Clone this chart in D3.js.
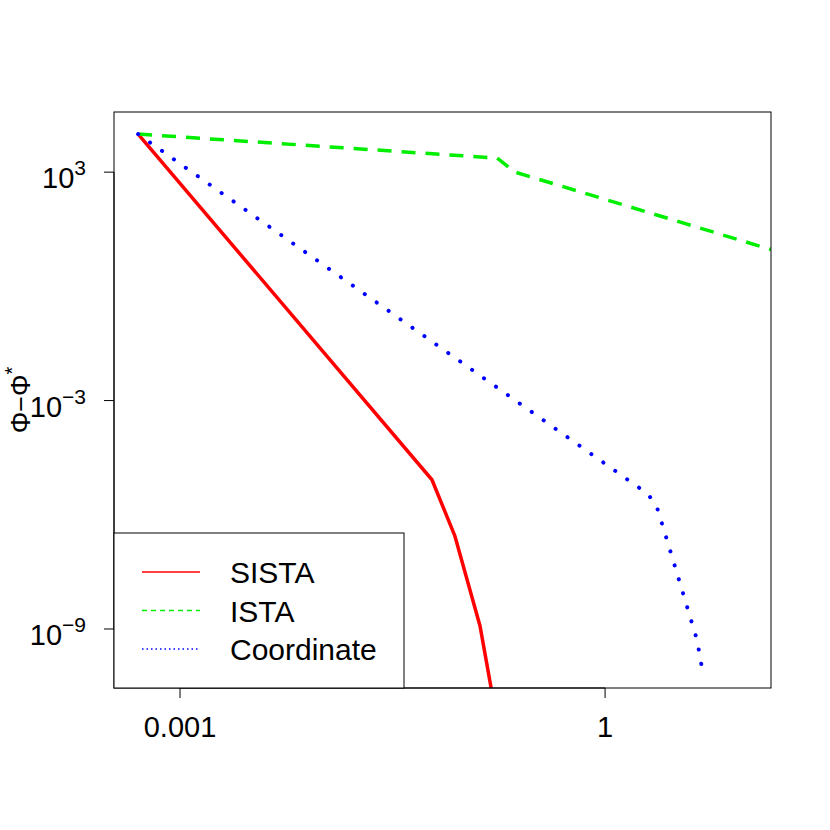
<!DOCTYPE html>
<html><head><meta charset="utf-8">
<script src="https://cdn.jsdelivr.net/npm/d3@7"></script>
<style>body{margin:0;background:#fff}text{font-family:"Liberation Sans",Arial,sans-serif}</style>
</head><body><div id="chart"></div>
<script>
// series: x = time, y = objective gap
var sistaX = [5.06e-4, 0.06, 0.087, 0.131, 0.157]
var sistaY = [1e4, 8.3e-6, 2.8e-7, 1.2e-9, 2.8e-11]
var istaX = [5.06e-4, 0.173, 0.232, 14.8]
var istaY = [1e4, 2.34e3, 1e3, 9.3]
var coordX = [5.06e-4, 2.01, 2.32, 2.73, 3.49, 4.46, 4.91]
var coordY = [1e4, 3.5e-6, 1.6e-6, 2.2e-7, 1.07e-8, 5.1e-10, 6.6e-11]
var xTicks = [0.001, 1]
var yTicks = [3, -3, -9]
var legendNames = ["SISTA", "ISTA", "Coordinate"]

var W = 830, H = 830
var L = 114, R = 771, T = 112, B = 688
var x = d3.scaleLog().domain([Math.pow(10, -3.466), Math.pow(10, 1.171)]).range([L, R])
var y = d3.scaleLog().domain([Math.pow(10, -10.55), Math.pow(10, 4.58)]).range([B, T])

var svg = d3.select("#chart").append("svg").attr("width", W).attr("height", H)
svg.append("defs").append("clipPath").attr("id", "clip")
  .append("rect").attr("x", L).attr("y", T).attr("width", R - L).attr("height", B - T)

var series = [
  {xs: sistaX, ys: sistaY, color: "#ff0000", dash: null, w: 3.5, cap: "butt"},
  {xs: istaX, ys: istaY, color: "#00ee00", dash: "14,10", w: 3.5, cap: "butt"},
  {xs: coordX, ys: coordY, color: "#0000ff", dash: "0.1,14.5", w: 4, cap: "round"}
]
var line = d3.line().x(d => x(d[0])).y(d => y(d[1]))
var g = svg.append("g").attr("clip-path", "url(#clip)")
series.forEach(function (s) {
  g.append("path").datum(s.xs.map((v, i) => [v, s.ys[i]]))
    .attr("d", line).attr("fill", "none").attr("stroke", s.color)
    .attr("stroke-width", s.w).attr("stroke-dasharray", s.dash).attr("stroke-linecap", s.cap)
})

svg.append("rect").attr("x", L).attr("y", T).attr("width", R - L).attr("height", B - T)
  .attr("fill", "none").attr("stroke", "#000").attr("stroke-width", 1)

// x axis
var xa = svg.append("g")
xa.append("line").attr("x1", x(xTicks[0])).attr("x2", x(xTicks[1])).attr("y1", B).attr("y2", B).attr("stroke", "#000")
xTicks.forEach(function (t) {
  xa.append("line").attr("x1", x(t)).attr("x2", x(t)).attr("y1", B).attr("y2", B + 10).attr("stroke", "#000")
  xa.append("text").attr("x", x(t)).attr("y", 737).attr("text-anchor", "middle")
    .attr("font-size", 29).text(d3.format("~g")(t))
})

// y axis
var ya = svg.append("g")
ya.append("line").attr("x1", L).attr("x2", L).attr("y1", y(1e3)).attr("y2", y(1e-9)).attr("stroke", "#000")
yTicks.forEach(function (t) {
  var yy = y(Math.pow(10, t))
  ya.append("line").attr("x1", L - 10).attr("x2", L).attr("y1", yy).attr("y2", yy).attr("stroke", "#000")
  var tx = ya.append("text").attr("x", 86).attr("y", yy + 16).attr("font-size", 29).attr("text-anchor", "end")
  tx.append("tspan").text("10")
  tx.append("tspan").attr("dy", -13).attr("font-size", 21).text(t < 0 ? "\u2212" + (-t) : t)
})

var yl = svg.append("text").attr("transform", "translate(22," + ((T + B) / 2) + ") rotate(-90)")
  .attr("text-anchor", "middle").attr("font-size", 27).attr("dy", 8)
yl.append("tspan").text("\u03A6\u2212\u03A6")
yl.append("tspan").attr("dy", -11).attr("font-size", 20).text("*")

// legend
var lg = svg.append("g")
lg.append("rect").attr("x", L).attr("y", 533).attr("width", 290).attr("height", B - 533)
  .attr("fill", "#fff").attr("stroke", "#000")
legendNames.forEach(function (n, i) {
  var yy = 572 + i * 38.5
  lg.append("line").attr("x1", 142).attr("x2", 200).attr("y1", yy).attr("y2", yy)
    .attr("stroke", series[i].color).attr("stroke-width", 1.5)
    .attr("stroke-dasharray", i == 1 ? "5,4" : i == 2 ? "1.5,3" : null)
  lg.append("text").attr("x", 230).attr("y", yy + 11).attr("font-size", 30).text(n)
})
</script></body></html>
